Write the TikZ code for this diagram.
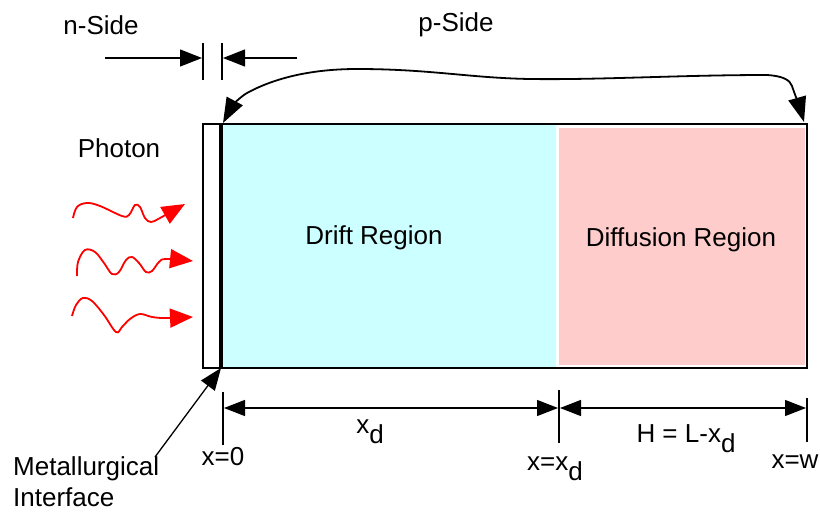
\documentclass[tikz,border=0pt]{standalone}
\usepackage{fontspec}
\setmainfont{Liberation Sans}
\usetikzlibrary{arrows.meta}
\definecolor{driftc}{HTML}{CCFFFF}
\definecolor{diffc}{HTML}{FFCCCC}
\newcommand{\xd}{x\raisebox{-10pt}{d}}
\tikzset{
  lbl/.style={font=\fontsize{26}{31}\selectfont, inner sep=0pt},
  dimline/.style={line width=1.3pt, {Triangle[length=21pt,width=16pt]}-{Triangle[length=21pt,width=16pt]}},
  onearrow/.style={line width=1.3pt, -{Triangle[length=22pt,width=17pt]}},
  tick/.style={line width=1.3pt},
  photon/.style={red, line width=1.8pt, -{Triangle[length=23pt,width=19pt]}},
}
\begin{document}
\begin{tikzpicture}[x=1pt,y=-1pt]
\useasboundingbox (0,0) rectangle (820,514);
% regions
\fill[driftc] (222,124) rectangle (556,368);
\fill[diffc] (559,128) rectangle (805,365);
\draw[line width=2.2pt] (203,124) rectangle (807,368);
\draw[line width=2.2pt] (203,124) -- (556,124) (203,368) -- (556,368);
\coordinate (ifTop) at (221,124);
\coordinate (ifBot) at (221,368);
\draw[line width=3.4pt] (ifTop) -- (ifBot);
\node[lbl] (drift) at (374,238) {Drift Region};
\node[lbl] (diff) at (681,240) {Diffusion Region};
% top labels
\node[lbl] (nside) at (101,25) {n-Side};
\node[lbl] (pside) at (456,25) {p-Side};
\node[lbl] (photon) at (119,148) {Photon};
% n-side dimension
\coordinate (t1a) at (203,43); \coordinate (t1b) at (203,80);
\coordinate (t2a) at (222,43); \coordinate (t2b) at (222,80);
\draw[tick] (t1a) -- (t1b) (t2a) -- (t2b);
\coordinate (nL) at (105,58); \coordinate (nLt) at (202,58);
\coordinate (nR) at (297,58); \coordinate (nRt) at (223,58);
\draw[onearrow] (nL) -- (nLt);
\draw[onearrow] (nR) -- (nRt);
% p-side brace arrow
\coordinate (bL) at (223,123);
\coordinate (bR) at (804,122);
\draw[line width=1.8pt, {Triangle[length=25pt,width=18pt]}-{Triangle[length=25pt,width=18pt]}]
  (bL) .. controls (231,108) and (237,99) .. (247,93)
  .. controls (280,75) and (320,69) .. (357,69)
  .. controls (430,69) and (470,78) .. (530,79)
  .. controls (600,80) and (680,75) .. (767,75)
  .. controls (783,76) and (790,80) .. (792,86)
  .. controls (795,95) and (800,108) .. (bR);
% photons
\draw[photon] plot[smooth, tension=0.6] coordinates {(73,218) (77,207) (87,203) (100,206) (122,216) (129,215) (135,205) (140,207) (145,218) (151,222) (160,218) (185,204)};
\draw[photon] plot[smooth, tension=0.6] coordinates {(77,276) (78,262) (85,250) (95,252) (104,263) (112,274) (119,272) (126,260) (132,257) (139,263) (146,272) (152,271) (159,262) (166,259) (193,261)};
\draw[photon] plot[smooth, tension=0.6] coordinates {(72,316) (76,305) (83,298) (92,301) (104,315) (116,332) (122,327) (130,319) (140,314) (152,317) (165,318) (193,317)};
% bottom dimensions
\coordinate (b0a) at (223,392); \coordinate (b0b) at (223,445);
\coordinate (b1a) at (559,390); \coordinate (b1b) at (559,443);
\coordinate (b2a) at (807,398); \coordinate (b2b) at (807,442);
\draw[tick] (b0a) -- (b0b) (b1a) -- (b1b) (b2a) -- (b2b);
\coordinate (d0) at (224,408); \coordinate (d1l) at (558,408);
\coordinate (d1r) at (560,408); \coordinate (d2) at (806,408);
\draw[dimline] (d0) -- (d1l);
\draw[dimline] (d1r) -- (d2);
\node[lbl, anchor=base] (lxd) at (370,433) {\xd};
\node[lbl, anchor=base] (lH) at (686,442) {H = L-\xd};
\node[lbl, anchor=base] (lx0) at (223,465) {x=0};
\node[lbl, anchor=base] (lxxd) at (555,470) {x=\xd};
\node[lbl, anchor=base] (lxw) at (795,468) {x=w};
% metallurgical interface
\node[lbl, anchor=base west] (met) at (13,475) {Metallurgical};
\node[lbl, anchor=base west] (intf) at (13,506) {Interface};
\coordinate (mStart) at (155,457);
\draw[onearrow] (mStart) -- (ifBot);
\end{tikzpicture}
\end{document}
